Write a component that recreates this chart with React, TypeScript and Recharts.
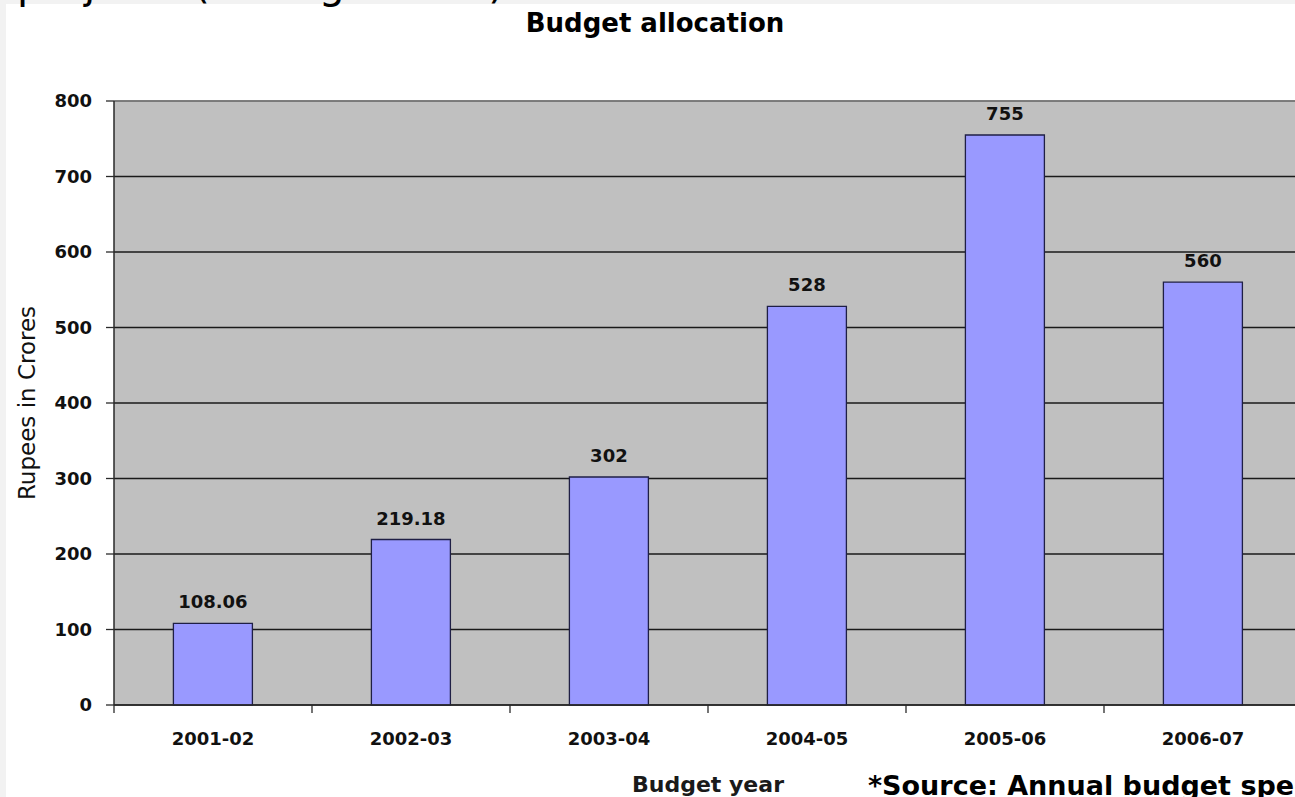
import {
  BarChart,
  Bar,
  XAxis,
  YAxis,
  CartesianGrid,
  ReferenceLine,
  LabelList,
} from 'recharts'

const years = ['2001-02', '2002-03', '2003-04', '2004-05', '2005-06', '2006-07']
const allocations = [108.06, 219.18, 302, 528, 755, 560]
const yTicks = [0, 100, 200, 300, 400, 500, 600, 700, 800]

const FONT = '"DejaVu Sans", Verdana, sans-serif'
const AXIS = '#2a2a2a'
const X_TICK_SIZE = 6
const X_TICK_MARGIN = 21

const chartData = years.map((year, i) => ({ year, amount: allocations[i] }))

// year label at the band centre, plus the little tick mark on the band's left edge
function YearTick(props: any) {
  const { x, y, payload } = props
  const half = payload?.offset ?? 0
  const edge = x - half
  const axisY = y - X_TICK_SIZE - X_TICK_MARGIN
  return (
    <g>
      <line x1={edge} x2={edge} y1={axisY} y2={axisY + 8} stroke={AXIS} strokeWidth={1.3} />
      <text
        x={x}
        y={y}
        dy="0.71em"
        textAnchor="middle"
        fontSize={18}
        fontWeight="bold"
        fill="#111"
      >
        {payload.value}
      </text>
    </g>
  )
}

function YTitle(props: any) {
  const vb = props.viewBox || {}
  const cx = vb.x + 27
  const cy = vb.y + vb.height / 2
  return (
    <text
      x={cx}
      y={cy}
      transform={`rotate(-90, ${cx}, ${cy})`}
      textAnchor="middle"
      dominantBaseline="central"
      fontSize={23}
      fill="#111"
    >
      Rupees in Crores
    </text>
  )
}

export default function App() {
  return (
    <div
      style={{
        position: 'fixed',
        left: 0,
        top: 0,
        width: 1295,
        height: 797,
        overflow: 'hidden',
        background: '#f2f2f2',
        fontFamily: FONT,
      }}
    >
      <div style={{ position: 'absolute', left: 6, top: 4, right: 0, bottom: 0, background: '#fff' }} />
      <div style={{ position: 'absolute', left: 0, top: 0 }}>
        <BarChart
          width={1310}
          height={797}
          data={chartData}
          margin={{ top: 101, right: 8, left: 0, bottom: 0 }}
          barCategoryGap="30%"
        >
          <CartesianGrid
            vertical={false}
            fill="#c0c0c0"
            fillOpacity={1}
            stroke="#1a1a1a"
            strokeWidth={1.3}
          />
          <XAxis
            dataKey="year"
            height={92}
            tickSize={X_TICK_SIZE}
            tickMargin={X_TICK_MARGIN}
            tickLine={false}
            axisLine={{ stroke: AXIS, strokeWidth: 1.5 }}
            tick={<YearTick />}
            interval={0}
            label={{
              value: 'Budget year',
              position: 'insideBottom',
              offset: 5,
              fontSize: 22,
              fontWeight: 'bold',
              fill: '#1a1a1a',
            }}
          />
          <YAxis
            domain={[0, 800]}
            ticks={yTicks}
            width={114}
            tickSize={8}
            tickMargin={14}
            axisLine={{ stroke: AXIS, strokeWidth: 1.5 }}
            tickLine={{ stroke: AXIS, strokeWidth: 1.3 }}
            tick={{ fontSize: 18, fontWeight: 'bold', fill: '#111' }}
            label={<YTitle />}
          />
          <ReferenceLine y={800} stroke="#8c8c8c" strokeWidth={1.5} />
          <Bar
            dataKey="amount"
            fill="#9999ff"
            stroke="#1f1f45"
            strokeWidth={1.3}
            isAnimationActive={false}
          >
            <LabelList
              dataKey="amount"
              position="top"
              offset={15}
              fontSize={18}
              fontWeight="bold"
              fill="#111"
            />
          </Bar>
        </BarChart>
      </div>
      <svg
        width={1295}
        height={797}
        style={{ position: 'absolute', left: 0, top: 0, pointerEvents: 'none' }}
      >
        <text x={17} y={-2} fontSize={41} fill="#000">
          projects (through 2006)
        </text>
        <text x={655} y={32} fontSize={26} fontWeight="bold" textAnchor="middle" fill="#000">
          Budget allocation
        </text>
        <text x={868} y={795} fontSize={27} fontWeight="bold" fill="#000">
          *Source: Annual budget speeches
        </text>
      </svg>
    </div>
  )
}
